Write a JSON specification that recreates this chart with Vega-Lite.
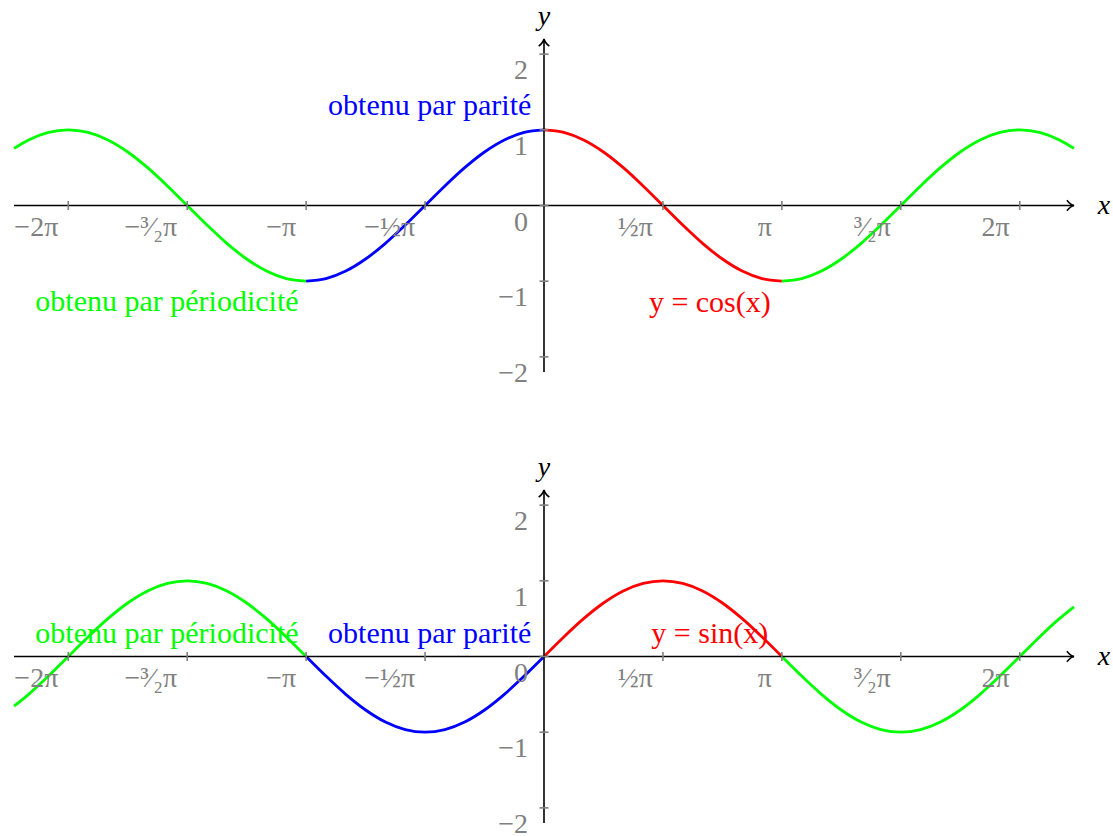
{
  "$schema": "https://vega.github.io/schema/vega-lite/v6.json",
  "background": "white",
  "padding": {"left": 8, "top": 3, "right": 0, "bottom": 0},
  "config": {"view": {"stroke": null}, "font": "Liberation Serif"},
  "datasets": {
    "courbes": [
      {"x": -7, "cos": 0.7539, "sin": -0.657, "p": "g1"},
      {"x": -6.8068, "cos": 0.866, "sin": -0.5, "p": "g1"},
      {"x": -6.545, "cos": 0.9659, "sin": -0.2588, "p": "g1"},
      {"x": -6.2832, "cos": 1, "sin": 0, "p": "g1"},
      {"x": -6.0214, "cos": 0.9659, "sin": 0.2588, "p": "g1"},
      {"x": -5.7596, "cos": 0.866, "sin": 0.5, "p": "g1"},
      {"x": -5.4978, "cos": 0.7071, "sin": 0.7071, "p": "g1"},
      {"x": -5.236, "cos": 0.5, "sin": 0.866, "p": "g1"},
      {"x": -4.9742, "cos": 0.2588, "sin": 0.9659, "p": "g1"},
      {"x": -4.7124, "cos": 0, "sin": 1, "p": "g1"},
      {"x": -4.4506, "cos": -0.2588, "sin": 0.9659, "p": "g1"},
      {"x": -4.1888, "cos": -0.5, "sin": 0.866, "p": "g1"},
      {"x": -3.927, "cos": -0.7071, "sin": 0.7071, "p": "g1"},
      {"x": -3.6652, "cos": -0.866, "sin": 0.5, "p": "g1"},
      {"x": -3.4034, "cos": -0.9659, "sin": 0.2588, "p": "g1"},
      {"x": -3.1416, "cos": -1, "sin": 0, "p": "g1"},
      {"x": -3.1416, "cos": -1, "sin": 0, "p": "b"},
      {"x": -2.8798, "cos": -0.9659, "sin": -0.2588, "p": "b"},
      {"x": -2.618, "cos": -0.866, "sin": -0.5, "p": "b"},
      {"x": -2.3562, "cos": -0.7071, "sin": -0.7071, "p": "b"},
      {"x": -2.0944, "cos": -0.5, "sin": -0.866, "p": "b"},
      {"x": -1.8326, "cos": -0.2588, "sin": -0.9659, "p": "b"},
      {"x": -1.5708, "cos": 0, "sin": -1, "p": "b"},
      {"x": -1.309, "cos": 0.2588, "sin": -0.9659, "p": "b"},
      {"x": -1.0472, "cos": 0.5, "sin": -0.866, "p": "b"},
      {"x": -0.7854, "cos": 0.7071, "sin": -0.7071, "p": "b"},
      {"x": -0.5236, "cos": 0.866, "sin": -0.5, "p": "b"},
      {"x": -0.2618, "cos": 0.9659, "sin": -0.2588, "p": "b"},
      {"x": 0, "cos": 1, "sin": 0, "p": "b"},
      {"x": 0, "cos": 1, "sin": 0, "p": "r"},
      {"x": 0.2618, "cos": 0.9659, "sin": 0.2588, "p": "r"},
      {"x": 0.5236, "cos": 0.866, "sin": 0.5, "p": "r"},
      {"x": 0.7854, "cos": 0.7071, "sin": 0.7071, "p": "r"},
      {"x": 1.0472, "cos": 0.5, "sin": 0.866, "p": "r"},
      {"x": 1.309, "cos": 0.2588, "sin": 0.9659, "p": "r"},
      {"x": 1.5708, "cos": 0, "sin": 1, "p": "r"},
      {"x": 1.8326, "cos": -0.2588, "sin": 0.9659, "p": "r"},
      {"x": 2.0944, "cos": -0.5, "sin": 0.866, "p": "r"},
      {"x": 2.3562, "cos": -0.7071, "sin": 0.7071, "p": "r"},
      {"x": 2.618, "cos": -0.866, "sin": 0.5, "p": "r"},
      {"x": 2.8798, "cos": -0.9659, "sin": 0.2588, "p": "r"},
      {"x": 3.1416, "cos": -1, "sin": 0, "p": "r"},
      {"x": 3.1416, "cos": -1, "sin": 0, "p": "g2"},
      {"x": 3.4034, "cos": -0.9659, "sin": -0.2588, "p": "g2"},
      {"x": 3.6652, "cos": -0.866, "sin": -0.5, "p": "g2"},
      {"x": 3.927, "cos": -0.7071, "sin": -0.7071, "p": "g2"},
      {"x": 4.1888, "cos": -0.5, "sin": -0.866, "p": "g2"},
      {"x": 4.4506, "cos": -0.2588, "sin": -0.9659, "p": "g2"},
      {"x": 4.7124, "cos": 0, "sin": -1, "p": "g2"},
      {"x": 4.9742, "cos": 0.2588, "sin": -0.9659, "p": "g2"},
      {"x": 5.236, "cos": 0.5, "sin": -0.866, "p": "g2"},
      {"x": 5.4978, "cos": 0.7071, "sin": -0.7071, "p": "g2"},
      {"x": 5.7596, "cos": 0.866, "sin": -0.5, "p": "g2"},
      {"x": 6.0214, "cos": 0.9659, "sin": -0.2588, "p": "g2"},
      {"x": 6.2832, "cos": 1, "sin": 0, "p": "g2"},
      {"x": 6.545, "cos": 0.9659, "sin": 0.2588, "p": "g2"},
      {"x": 6.8068, "cos": 0.866, "sin": 0.5, "p": "g2"},
      {"x": 7, "cos": 0.7539, "sin": 0.657, "p": "g2"}
    ],
    "gradX": [
      {"x": -6.2832, "t": "−2π"},
      {"x": -4.7124, "t": "−³⁄₂π"},
      {"x": -3.1416, "t": "−π"},
      {"x": -1.5708, "t": "−½π"},
      {"x": 1.5708, "t": "½π"},
      {"x": 3.1416, "t": "π"},
      {"x": 4.7124, "t": "³⁄₂π"},
      {"x": 6.2832, "t": "2π"}
    ],
    "gradY": [
      {"y": -2, "t": "−2"},
      {"y": -1, "t": "−1"},
      {"y": 0, "t": "0"},
      {"y": 1, "t": "1"},
      {"y": 2, "t": "2"}
    ],
    "notes": [
      {"f": "cos", "t": "obtenu par parité", "x": -1.51, "y": 1.32, "p": "b"},
      {"f": "cos", "t": "obtenu par périodicité", "x": -4.98, "y": -1.27, "p": "g1"},
      {"f": "cos", "t": "y = cos(x)", "x": 2.19, "y": -1.29, "p": "r"},
      {"f": "sin", "t": "obtenu par périodicité", "x": -4.98, "y": 0.3, "p": "g1"},
      {"f": "sin", "t": "obtenu par parité", "x": -1.51, "y": 0.3, "p": "b"},
      {"f": "sin", "t": "y = sin(x)", "x": 2.19, "y": 0.3, "p": "r"}
    ],
    "repere": [{}]
  },
  "spacing": 118,
  "bounds": "flush",
  "vconcat": [
    {
      "width": 1060,
      "height": 333,
      "layer": [
        {
          "data": {"name": "courbes"},
          "mark": {"type": "line", "strokeWidth": 2.8, "interpolate": "monotone"},
          "encoding": {
            "x": {"field": "x", "type": "quantitative", "scale": {"domain": [-7, 7], "nice": false, "zero": false}, "axis": null},
            "y": {"field": "cos", "type": "quantitative", "scale": {"domain": [-2.2, 2.2], "nice": false, "zero": false}, "axis": null},
            "color": {"field": "p", "type": "nominal", "scale": {"domain": ["g1", "b", "r", "g2"], "range": ["#00ff00", "#0000ff", "#ff0000", "#00ff00"]}, "legend": null}
          }
        },
        {
          "data": {"name": "repere"},
          "mark": {"type": "rule", "color": "black", "strokeWidth": 1.6},
          "encoding": {"x": {"datum": -7}, "x2": {"datum": 7}, "y": {"datum": 0}}
        },
        {
          "data": {"name": "repere"},
          "mark": {"type": "rule", "color": "black", "strokeWidth": 1.6},
          "encoding": {"x": {"datum": 0}, "y": {"datum": -2.2}, "y2": {"datum": 2.2}}
        },
        {
          "data": {"name": "repere"},
          "mark": {"type": "point", "shape": "M-1,-0.75 C-0.65,-0.3 -0.25,-0.05 0,0 C-0.25,0.05 -0.65,0.3 -1,0.75", "filled": false, "stroke": "black", "strokeWidth": 1.6, "size": 200, "opacity": 1},
          "encoding": {"x": {"datum": 7}, "y": {"datum": 0}}
        },
        {
          "data": {"name": "repere"},
          "mark": {"type": "point", "shape": "M-1,-0.75 C-0.65,-0.3 -0.25,-0.05 0,0 C-0.25,0.05 -0.65,0.3 -1,0.75", "filled": false, "stroke": "black", "strokeWidth": 1.6, "size": 200, "opacity": 1, "angle": -90},
          "encoding": {"x": {"datum": 0}, "y": {"datum": 2.2}}
        },
        {
          "data": {"name": "gradX"},
          "mark": {"type": "tick", "orient": "vertical", "size": 9, "thickness": 1.6, "color": "#808080", "opacity": 1},
          "encoding": {"x": {"field": "x", "type": "quantitative"}, "y": {"datum": 0}}
        },
        {
          "data": {"name": "gradY"},
          "mark": {"type": "tick", "orient": "horizontal", "size": 9, "thickness": 1.6, "color": "#808080", "opacity": 1},
          "encoding": {"x": {"datum": 0}, "y": {"field": "y", "type": "quantitative"}}
        },
        {
          "data": {"name": "gradX"},
          "mark": {"type": "text", "align": "right", "baseline": "middle", "dx": -10, "dy": 22, "fontSize": 28, "color": "#808080"},
          "encoding": {"x": {"field": "x", "type": "quantitative"}, "y": {"datum": 0}, "text": {"field": "t"}}
        },
        {
          "data": {"name": "gradY"},
          "mark": {"type": "text", "align": "right", "baseline": "middle", "dx": -16, "dy": 17, "fontSize": 28, "color": "#808080"},
          "encoding": {"x": {"datum": 0}, "y": {"field": "y", "type": "quantitative"}, "text": {"field": "t"}}
        },
        {
          "data": {"name": "notes"},
          "transform": [{"filter": "datum.f === 'cos'"}],
          "mark": {"type": "text", "align": "center", "baseline": "middle", "fontSize": 30},
          "encoding": {
            "x": {"field": "x", "type": "quantitative"},
            "y": {"field": "y", "type": "quantitative"},
            "text": {"field": "t"},
            "color": {"field": "p", "type": "nominal", "legend": null}
          }
        },
        {
          "data": {"name": "repere"},
          "mark": {"type": "text", "align": "center", "baseline": "alphabetic", "dy": -14, "fontSize": 28, "fontStyle": "italic", "color": "black"},
          "encoding": {"x": {"datum": 0}, "y": {"datum": 2.2}, "text": {"value": "y"}}
        },
        {
          "data": {"name": "repere"},
          "mark": {"type": "text", "align": "center", "baseline": "middle", "dx": 30, "fontSize": 28, "fontStyle": "italic", "color": "black"},
          "encoding": {"x": {"datum": 7}, "y": {"datum": 0}, "text": {"value": "x"}}
        }
      ]
    },
    {
      "width": 1060,
      "height": 333,
      "layer": [
        {
          "data": {"name": "courbes"},
          "mark": {"type": "line", "strokeWidth": 2.8, "interpolate": "monotone"},
          "encoding": {
            "x": {"field": "x", "type": "quantitative", "scale": {"domain": [-7, 7], "nice": false, "zero": false}, "axis": null},
            "y": {"field": "sin", "type": "quantitative", "scale": {"domain": [-2.2, 2.2], "nice": false, "zero": false}, "axis": null},
            "color": {"field": "p", "type": "nominal", "scale": {"domain": ["g1", "b", "r", "g2"], "range": ["#00ff00", "#0000ff", "#ff0000", "#00ff00"]}, "legend": null}
          }
        },
        {
          "data": {"name": "repere"},
          "mark": {"type": "rule", "color": "black", "strokeWidth": 1.6},
          "encoding": {"x": {"datum": -7}, "x2": {"datum": 7}, "y": {"datum": 0}}
        },
        {
          "data": {"name": "repere"},
          "mark": {"type": "rule", "color": "black", "strokeWidth": 1.6},
          "encoding": {"x": {"datum": 0}, "y": {"datum": -2.2}, "y2": {"datum": 2.2}}
        },
        {
          "data": {"name": "repere"},
          "mark": {"type": "point", "shape": "M-1,-0.75 C-0.65,-0.3 -0.25,-0.05 0,0 C-0.25,0.05 -0.65,0.3 -1,0.75", "filled": false, "stroke": "black", "strokeWidth": 1.6, "size": 200, "opacity": 1},
          "encoding": {"x": {"datum": 7}, "y": {"datum": 0}}
        },
        {
          "data": {"name": "repere"},
          "mark": {"type": "point", "shape": "M-1,-0.75 C-0.65,-0.3 -0.25,-0.05 0,0 C-0.25,0.05 -0.65,0.3 -1,0.75", "filled": false, "stroke": "black", "strokeWidth": 1.6, "size": 200, "opacity": 1, "angle": -90},
          "encoding": {"x": {"datum": 0}, "y": {"datum": 2.2}}
        },
        {
          "data": {"name": "gradX"},
          "mark": {"type": "tick", "orient": "vertical", "size": 9, "thickness": 1.6, "color": "#808080", "opacity": 1},
          "encoding": {"x": {"field": "x", "type": "quantitative"}, "y": {"datum": 0}}
        },
        {
          "data": {"name": "gradY"},
          "mark": {"type": "tick", "orient": "horizontal", "size": 9, "thickness": 1.6, "color": "#808080", "opacity": 1},
          "encoding": {"x": {"datum": 0}, "y": {"field": "y", "type": "quantitative"}}
        },
        {
          "data": {"name": "gradX"},
          "mark": {"type": "text", "align": "right", "baseline": "middle", "dx": -10, "dy": 22, "fontSize": 28, "color": "#808080"},
          "encoding": {"x": {"field": "x", "type": "quantitative"}, "y": {"datum": 0}, "text": {"field": "t"}}
        },
        {
          "data": {"name": "gradY"},
          "mark": {"type": "text", "align": "right", "baseline": "middle", "dx": -16, "dy": 17, "fontSize": 28, "color": "#808080"},
          "encoding": {"x": {"datum": 0}, "y": {"field": "y", "type": "quantitative"}, "text": {"field": "t"}}
        },
        {
          "data": {"name": "notes"},
          "transform": [{"filter": "datum.f === 'sin'"}],
          "mark": {"type": "text", "align": "center", "baseline": "middle", "fontSize": 30},
          "encoding": {
            "x": {"field": "x", "type": "quantitative"},
            "y": {"field": "y", "type": "quantitative"},
            "text": {"field": "t"},
            "color": {"field": "p", "type": "nominal", "legend": null}
          }
        },
        {
          "data": {"name": "repere"},
          "mark": {"type": "text", "align": "center", "baseline": "alphabetic", "dy": -14, "fontSize": 28, "fontStyle": "italic", "color": "black"},
          "encoding": {"x": {"datum": 0}, "y": {"datum": 2.2}, "text": {"value": "y"}}
        },
        {
          "data": {"name": "repere"},
          "mark": {"type": "text", "align": "center", "baseline": "middle", "dx": 30, "fontSize": 28, "fontStyle": "italic", "color": "black"},
          "encoding": {"x": {"datum": 7}, "y": {"datum": 0}, "text": {"value": "x"}}
        }
      ]
    }
  ]
}
